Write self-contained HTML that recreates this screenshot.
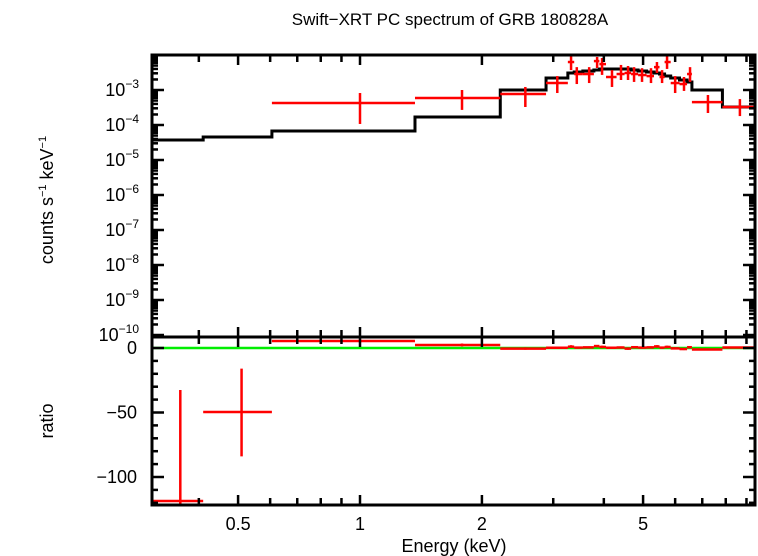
<!DOCTYPE html>
<html><head><meta charset="utf-8"><style>
body{margin:0;background:#fff;}
svg{display:block;font-family:"Liberation Sans",sans-serif;}
</style></head><body>
<svg id="chart" width="758" height="556" viewBox="0 0 758 556" xmlns="http://www.w3.org/2000/svg">
<text x="450" y="25" font-size="17" text-anchor="middle">Swift−XRT PC spectrum of GRB 180828A</text>
<text transform="translate(53,200) rotate(-90)" font-size="18" text-anchor="middle">counts s<tspan font-size="11" dy="-7">−1</tspan><tspan dy="7"> keV</tspan><tspan font-size="11" dy="-7">−1</tspan></text>
<text transform="translate(53,421) rotate(-90)" font-size="18" text-anchor="middle">ratio</text>
<text x="454" y="552" font-size="18" text-anchor="middle">Energy (keV)</text>
<g id="g"></g>
</svg>
<script>
const binLo=[0.606,1.367,2.22,2.88,3.26,3.38,3.55,3.78,3.9,4.05,4.3,4.5,4.67,4.86,5.1,5.32,5.49,5.65,5.85,6.15,6.42,6.6,7.85];
const binHi=[1.367,2.22,2.88,3.26,3.38,3.55,3.78,3.9,4.05,4.3,4.5,4.67,4.86,5.1,5.32,5.49,5.65,5.85,6.15,6.42,6.6,7.85,9.45];
const binCenter=[1.0,1.786,2.56,3.07,3.32,3.43,3.68,3.85,3.96,4.19,4.41,4.59,4.75,4.97,5.23,5.41,5.57,5.73,6.0,6.31,6.53,7.23,8.67];
const flux=[4.25e-4,5.9e-4,7.7e-4,1.58e-3,6.3e-3,2.86e-3,2.86e-3,6.7e-3,5.5e-3,2.35e-3,2.86e-3,3.06e-3,2.86e-3,2.68e-3,2.5e-3,4.5e-3,2.35e-3,6.3e-3,1.58e-3,1.48e-3,2.86e-3,4.5e-4,3.27e-4];
const fluxHi=[8.2e-4,1e-3,1.22e-3,2.5e-3,1e-2,4.5e-3,4.5e-3,8.8e-3,8.2e-3,3.7e-3,5.2e-3,4.85e-3,4.5e-3,4.2e-3,4.2e-3,6.3e-3,3.7e-3,9.4e-3,2.5e-3,2.35e-3,4.5e-3,7.2e-4,5.5e-4];
const fluxLo=[1.07e-4,2.7e-4,3.27e-4,8.2e-4,3.7e-3,1.48e-3,1.58e-3,4.25e-3,2.7e-3,1.22e-3,1.93e-3,1.93e-3,1.7e-3,1.7e-3,1.58e-3,3.06e-3,1.58e-3,4e-3,8.2e-4,9.4e-4,1.7e-3,2.2e-4,1.8e-4];
const modelEdges=[0.306,0.41,0.606,1.367,2.22,2.88,3.26,3.38,3.55,3.78,3.9,4.05,4.3,4.5,4.67,4.86,5.1,5.32,5.49,5.65,5.85,6.15,6.42,6.6,7.85,9.45];
const modelFlux=[3.73e-5,4.54e-5,6.74e-5,1.69e-4,1e-3,2.2e-3,3.06e-3,3.27e-3,3.49e-3,3.73e-3,3.98e-3,3.98e-3,3.98e-3,3.98e-3,3.73e-3,3.49e-3,3.27e-3,3.06e-3,2.86e-3,2.51e-3,2.2e-3,1.93e-3,1.69e-3,1e-3,3.27e-4];
const ratioLo=[0.306,0.41,0.606,1.367,2.22,2.88,3.26,3.38,3.55,3.78,3.9,4.05,4.3,4.5,4.67,4.86,5.1,5.32,5.49,5.65,5.85,6.15,6.42,6.6,7.85];
const ratioHi=[0.41,0.606,1.367,2.22,2.88,3.26,3.38,3.55,3.78,3.9,4.05,4.3,4.5,4.67,4.86,5.1,5.32,5.49,5.65,5.85,6.15,6.42,6.6,7.85,9.45];
const ratioCenter=[0.36,0.51,1.0,1.786,2.56,3.07,3.32,3.43,3.68,3.85,3.96,4.19,4.41,4.59,4.75,4.97,5.23,5.41,5.57,5.73,6.0,6.31,6.53,7.23,8.67];
const ratioVal=[-118.6,-49.6,5.4,2.3,-0.5,0.2,1,0.3,0.5,1.5,0.8,0.2,0.4,-0.5,0.6,0.3,0.5,1.2,0.3,0.8,-0.3,-0.8,0.6,-1.2,0.4];
const ratioErrHi=[-32.6,-16,6.5,3.5,0.5,1,2.2,1,1.2,2.3,1.8,1,1.2,0.5,1.5,1,1.3,2.2,1,1.8,0.4,0,1.5,-0.5,1];
const ratioErrLo=[-125,-84,4.3,1.2,-1.3,-0.6,0,-0.4,-0.3,0.5,-0.1,-0.6,-0.4,-1.4,-0.3,-0.5,-0.3,0.2,-0.5,-0.1,-1,-1.6,-0.4,-1.9,-0.2];
const xTickLabels=["0.5","1","2","5"];
const xTickVals=[0.5,1,2,5];
const yTickExp=[-3,-4,-5,-6,-7,-8,-9,-10];
const rTickVals=[0,-50,-100];

const L=152,R=755,T=55,M=337,B=505;
const X=e=>360+405*Math.log10(e);
const Y=f=>55-35*(Math.log10(f)+2);
const RY=r=>348-1.29*r;
const g=document.getElementById('g');
const NS='http://www.w3.org/2000/svg';
function mk(tag,attrs,parent){const el=document.createElementNS(NS,tag);for(const k in attrs)el.setAttribute(k,attrs[k]);(parent||g).appendChild(el);return el;}
function ln(x1,y1,x2,y2,c,w,p){return mk('line',{x1,y1,x2,y2,stroke:c,'stroke-width':w},p);}

const defs=mk('defs',{});
const cp1=mk('clipPath',{id:'c1'},defs);mk('rect',{x:L,y:T,width:R-L,height:M-T},cp1);
const cp2=mk('clipPath',{id:'c2'},defs);mk('rect',{x:L,y:M,width:R-L,height:B-M},cp2);
const topG=mk('g',{'clip-path':'url(#c1)'});


const botG=mk('g',{'clip-path':'url(#c2)'});



let d='M'+X(modelEdges[0])+','+Y(modelFlux[0]);
for(let i=0;i<modelFlux.length;i++){d+=' L'+X(modelEdges[i])+','+Y(modelFlux[i])+' L'+X(modelEdges[i+1])+','+Y(modelFlux[i]);}
const mp=mk('path',{d,fill:'none',stroke:'#000','stroke-width':3},topG);



for(let i=0;i<flux.length;i++){
  const pg=mk('g',{},topG);
  
  
  ln(X(binLo[i]),Y(flux[i]),X(binHi[i]),Y(flux[i]),'#f00',2.5,pg);
  ln(X(binCenter[i]),Y(fluxHi[i]),X(binCenter[i]),Y(fluxLo[i]),'#f00',2.5,pg);
}
const gl=ln(L,RY(0),R,RY(0),'#0e0',2.5,botG);


for(let i=0;i<ratioVal.length;i++){
  const pg=mk('g',{},botG);
  
  
  ln(X(ratioLo[i]),RY(ratioVal[i]),X(ratioHi[i]),RY(ratioVal[i]),'#f00',2.5,pg);
  ln(X(ratioCenter[i]),RY(ratioErrHi[i]),X(ratioCenter[i]),RY(ratioErrLo[i]),'#f00',2.5,pg);
}

const minorE=[0.4,0.5,0.6,0.7,0.8,0.9,1,2,3,4,5,6,7,8,9];
for(const e of minorE){
  const x=X(e);const big=(e===1||e===0.5||e===2||e===5)?10:7;
  if(x<L||x>R)continue;
  for(const [y0,dir] of [[T,1],[M,-1],[M,1],[B,-1]]) ln(x,y0,x,y0+dir*big,'#000',2.5);
}
xTickVals.forEach((v,i)=>{const t=mk('text',{x:X(v),y:530,'font-size':18,'text-anchor':'middle'});t.textContent=xTickLabels[i];

});
for(let ex=-11;ex<=-2;ex++){
  for(let m=1;m<10;m++){
    const y=Y(m*Math.pow(10,ex));if(y<T||y>M)continue;
    const len=m===1?12:6;
    ln(L,y,L+len,y,'#000',2.5);ln(R,y,R-len,y,'#000',2.5);
  }
}
yTickExp.forEach(ex=>{const t=mk('text',{x:139,y:Y(Math.pow(10,ex))+6,'font-size':18,'text-anchor':'end'});
t.innerHTML='10<tspan font-size="12" dy="-8">−'+(-ex)+'</tspan>';

});
for(let r=0;r>=-120;r-=10){const y=RY(r);const len=r%50===0?12:6;ln(L,y,L+len,y,'#000',2.5);ln(R,y,R-len,y,'#000',2.5);}
rTickVals.forEach(v=>{const t=mk('text',{x:137,y:RY(v)+6,'font-size':18,'text-anchor':'end'});t.textContent=v===0?'0':'−'+(-v);

});
const f1=mk('rect',{x:L,y:T,width:R-L,height:M-T,fill:'none',stroke:'#000','stroke-width':3});


const f2=mk('rect',{x:L,y:M,width:R-L,height:B-M,fill:'none',stroke:'#000','stroke-width':3});


</script>
</body></html>
